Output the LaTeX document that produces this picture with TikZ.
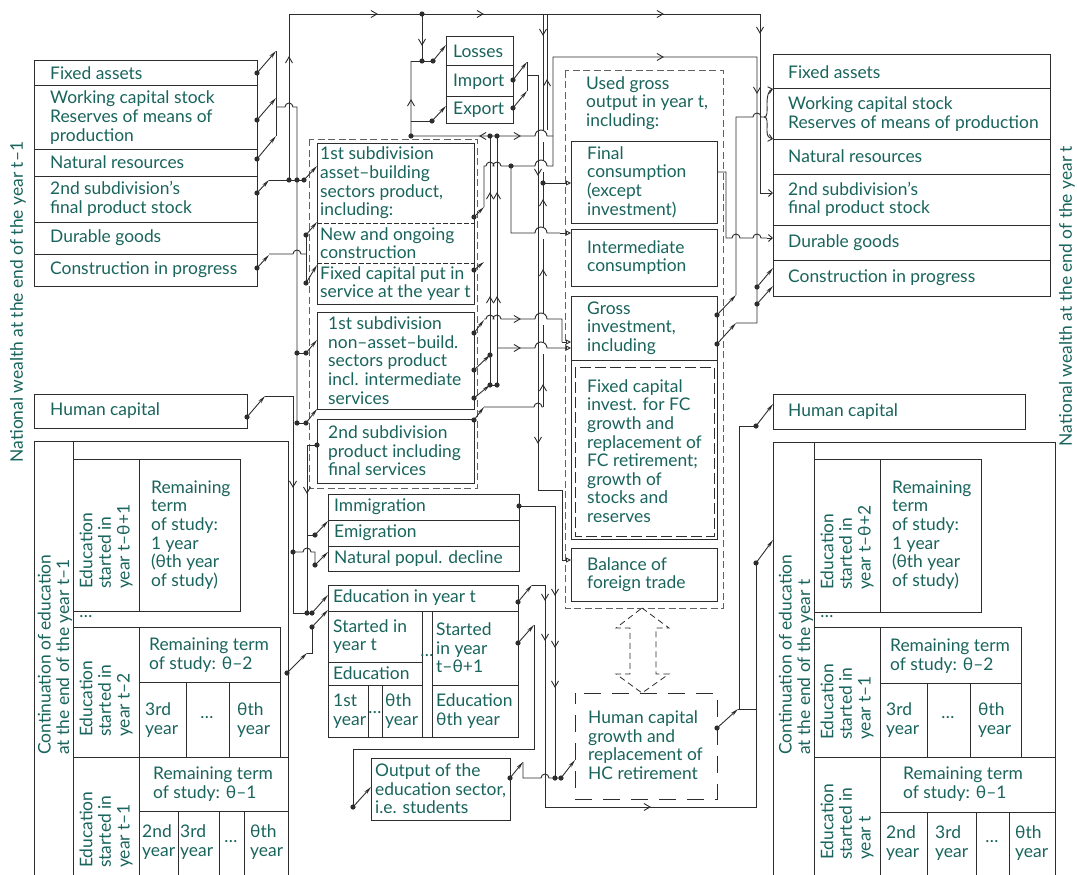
\documentclass[tikz,border=0pt]{standalone}
\usepackage{fontspec}
\setmainfont{Lato}
\usetikzlibrary{arrows.meta,calc}
\definecolor{tealc}{RGB}{25,100,92}
\definecolor{linec}{RGB}{45,45,45}
\newcommand\dt[2]{\fill[linec] (#1,#2) circle (2.6);}
\newcommand\da[4]{\dt{#1}{#2}\draw[wire,tip] (#1,#2) -- (#3,#4);}
\newcommand\ch[3]{\draw[wire] (#1,#2) ++(#3+150:7) -- (#1,#2) -- ++(#3-150:7);}
\newcommand\rbox[5]{\node[box, anchor=north west, minimum width={(#4-#2)*1pt}, minimum height={(#5-#3)*1pt}] (#1) at (#2,#3) {};}
\begin{document}
\begin{tikzpicture}[x=1pt,y=-1pt,
  box/.style={draw=linec, line width=1pt, inner sep=0pt, outer sep=0pt},
  dbox/.style={draw=linec!75, line width=1pt, dash pattern=on 7pt off 3.5pt},
  t/.style={text=tealc, font=\fontsize{17.4}{18.6}\selectfont, align=left, inner sep=0pt, anchor=west},
  wire/.style={draw=linec, line width=0.9pt},
  tip/.style={-{Stealth[length=8pt,width=3.5pt]}},
  tipo/.style={-{Triangle[open,length=5pt,width=5pt]}},
  tipb/.style={-{Straight Barb[length=4pt,width=7pt]}}]
\useasboundingbox (0,0) rectangle (1077,875);
\fill[white] (0,0) rectangle (1077,875);

% ---------------- left: national wealth t-1
\node[t, rotate=90, anchor=center] (nwl) at (18,302) {National wealth at the end of the year t–1};
\rbox{lfa}{34}{61}{257}{86} \node[t] at (50,73.5) {Fixed assets};
\rbox{lwc}{34}{86}{257}{149} \node[t] at (50,117.5) {Working capital stock\\Reserves of means of\\production};
\rbox{lnr}{34}{149}{257}{176} \node[t] at (50,162.5) {Natural resources};
\rbox{lsf}{34}{176}{257}{222} \node[t] at (50,199) {2nd subdivision’s\\final product stock};
\rbox{ldg}{34}{222}{257}{254} \node[t] at (50,238) {Durable goods};
\rbox{lcp}{34}{254}{257}{286} \node[t] at (50,270) {Construction in progress};
\rbox{lhc}{34}{394}{247}{428} \node[t] at (50,411) {Human capital};

% left education block
\draw[box] (34,876) -- (34,441) -- (288,441) -- (288,876);
\draw[box] (73,441) -- (73,876);
\rbox{le1}{73}{459}{240}{611}
\draw[box] (139,459) -- (139,611);
\node[t, rotate=90] at (106,589) {Education\\started in\\year t–θ+1};
\node[t] at (151,535) {Remaining\\term\\of study:\\1 year\\(θth year\\of study)};
\node[t, anchor=center] at (86,617) {…};
\draw[box] (73,627) -- (280,627) -- (280,757);
\draw[box] (139,627) -- (139,876);
\draw[box] (139,682) -- (280,682);
\draw[box] (186,682) -- (186,757) (229,682) -- (229,757);
\draw[box] (73,757) -- (288,757);
\draw[box] (139,811) -- (288,811);
\draw[box] (178,811) -- (178,876) (219,811) -- (219,876) (244,811) -- (244,876);
\node[t, rotate=90] at (106,737) {Education\\started in\\year t–2};
\node[t] at (149,655) {Remaining term\\of study: θ–2};
\node[t] at (145,720) {3rd\\year};
\node[t, anchor=center] at (207,718) {…};
\node[t] at (237,720) {θth\\year};
\node[t, rotate=90] at (106,868) {Education\\started in\\year t–1};
\node[t] at (153,784) {Remaining term\\of study: θ–1};
\node[t] at (142,842) {2nd\\year};
\node[t] at (180,842) {3rd\\year};
\node[t, anchor=center] at (231,842) {…};
\node[t] at (250,842) {θth\\year};
\node[t, rotate=90] at (55,755) {Continuation of education\\at the end of the year t–1};

% ---------------- middle
\draw[dbox] (309,139) rectangle (477,488);
\rbox{asb}{317}{143}{474}{304}
\draw[linec, line width=0.8pt, dash pattern=on 5pt off 2pt] (317,223) -- (474,223) (317,263) -- (474,263);
\node[t] at (320,183) {1st subdivision\\asset–building\\sectors product,\\including:};
\node[t] at (320,243) {New and ongoing\\construction};
\node[t] at (320,283.5) {Fixed capital put in\\service at the year t};
\rbox{nab}{317}{312}{474}{409} \node[t] at (328,360.5) {1st subdivision\\non–asset–build.\\sectors product\\incl. intermediate\\services};
\rbox{s2b}{317}{419}{474}{483} \node[t] at (328,451) {2nd subdivision\\product including\\final services};
\rbox{los}{446}{37}{513}{66} \node[t] at (453,51.5) {Losses};
\rbox{imp}{446}{66}{513}{97} \node[t] at (453,81.5) {Import};
\rbox{exp}{446}{97}{513}{123} \node[t] at (453,110) {Export};
\rbox{img}{328}{494}{519}{520} \node[t] at (334,507) {Immigration};
\rbox{emi}{328}{520}{519}{546} \node[t] at (334,533) {Emigration};
\rbox{npd}{328}{546}{519}{571} \node[t] at (334,558.5) {Natural popul. decline};
% education in year t
\rbox{edt}{328}{585}{518}{737}
\draw[box] (328,611) -- (518,611) (328,662) -- (422,662) (328,685) -- (422,685) (432,685) -- (518,685);
\draw[box] (422,611) -- (422,737) (432,611) -- (432,737) (368,685) -- (368,737) (382,685) -- (382,737);
\node[t] at (333,598) {Education in year t};
\node[t] at (333,636.5) {Started in\\year t};
\node[t] at (333,673.5) {Education};
\node[t] at (333,711) {1st\\year};
\node[t, anchor=center] at (375,713) {…};
\node[t] at (385,711) {θth\\year};
\node[t, anchor=center] at (427,656) {…};
\node[t] at (436,648) {Started\\in year\\t–θ+1};
\node[t] at (436,711) {Education\\θth year};
\rbox{out}{371}{758}{510}{820} \node[t] at (375,789) {Output of the\\education sector,\\i.e. students};

% ---------------- right middle
\draw[dbox] (565,71) rectangle (723,608);
\node[t] at (586,103) {Used gross\\output in year t,\\including:};
\rbox{fc}{571}{141}{717}{223} \node[t] at (587,182) {Final\\consumption\\(except\\investment)};
\rbox{ic}{571}{229}{717}{286} \node[t] at (587,257.5) {Intermediate\\consumption};
\rbox{gi}{571}{296}{717}{539}
\draw[box] (571,360) -- (717,360);
\node[t] at (587,328) {Gross\\investment,\\including};
\draw[linec, line width=1pt, dash pattern=on 11pt off 4pt] (575,367) rectangle (714,536);
\node[t] at (587,451) {Fixed capital\\invest. for FC\\growth and\\replacement of\\FC retirement;\\growth of\\stocks and\\reserves};
\rbox{bft}{571}{548}{717}{601} \node[t] at (587,574.5) {Balance of\\foreign trade};
\draw[linec, line width=1pt, dash pattern=on 17pt off 11pt, dash phase=6pt] (575,693) rectangle (717,799);
\node[t] (hcg) at (588,745) {Human capital\\growth and\\replacement of\\HC retirement};
\draw[linec, line width=0.8pt, dash pattern=on 6pt off 4pt] (642,608) -- (669,628) -- (656,628) -- (656,674) -- (669,674) -- (642,693) -- (616,674) -- (630,674) -- (630,628) -- (616,628) -- cycle;

% ---------------- right: national wealth t
\node[t, rotate=90, anchor=center] (nwr) at (1067,296) {National wealth at the end of the year t};
\rbox{rfa}{773}{55}{1050}{89} \node[t] at (788,72) {Fixed assets};
\rbox{rwc}{773}{89}{1050}{139} \node[t] at (788,114) {Working capital stock\\Reserves of means of production};
\rbox{rnr}{773}{139}{1050}{174} \node[t] at (788,156.5) {Natural resources};
\rbox{rsf}{773}{174}{1050}{225} \node[t] at (788,199.5) {2nd subdivision’s\\final product stock};
\rbox{rdg}{773}{225}{1050}{260} \node[t] at (788,242.5) {Durable goods};
\rbox{rcp}{773}{260}{1050}{296} \node[t] at (788,278) {Construction in progress};
\rbox{rhc}{773}{394}{1025}{429} \node[t] at (788,411.5) {Human capital};
\draw[box] (773,876) -- (773,442) -- (1055,442) -- (1055,876);
\draw[box] (814,442) -- (814,876);
\rbox{re1}{814}{459}{981}{612}
\draw[box] (880,459) -- (880,612);
\node[t, rotate=90] at (847,590) {Education\\started in\\year t–θ+2};
\node[t] at (892,535) {Remaining\\term\\of study:\\1 year\\(θth year\\of study)};
\node[t, anchor=center] at (827,617) {…};
\draw[box] (814,627) -- (1021,627) -- (1021,757);
\draw[box] (880,627) -- (880,876);
\draw[box] (880,683) -- (1021,683);
\draw[box] (927,683) -- (927,757) (970,683) -- (970,757);
\draw[box] (814,757) -- (1055,757);
\draw[box] (880,812) -- (1055,812);
\draw[box] (927,812) -- (927,876) (976,812) -- (976,876) (1009,812) -- (1009,876);
\node[t, rotate=90] at (847,740) {Education\\started in\\year t–1};
\node[t] at (890,656) {Remaining term\\of study: θ–2};
\node[t] at (886,720) {3rd\\year};
\node[t, anchor=center] at (948,718) {…};
\node[t] at (978,720) {θth\\year};
\node[t, rotate=90] at (847,860) {Education\\started in\\year t};
\node[t] at (903,784) {Remaining term\\of study: θ–1};
\node[t] at (886,843) {2nd\\year};
\node[t] at (935,843) {3rd\\year};
\node[t, anchor=center] at (992,842) {…};
\node[t] at (1015,843) {θth\\year};
\node[t, rotate=90] at (796,755) {Continuation of education\\at the end of the year t};

% ================= wiring
% stock of 2nd subdivision -> top line -> right
\da{257}{193}{269}{180}
\draw[wire] (269,180) -- (304,180);
\draw[wire] (289,180) -- (289,14) -- (760,14) -- (760,193);
\draw[wire,tipb] (760,193) -- (773,193);
\dt{289}{180}
\ch{289}{57}{270} \ch{377}{14}{0} \ch{483}{14}{0} \ch{663}{14}{0} \ch{760}{33}{90}
% resources
\da{257}{73}{276}{51} \da{257}{120}{276}{98} \da{257}{159}{276}{136}
\draw[wire] (276,51) -- (276,136);
\draw[wire] (276,107) -- (285,107) arc (180:360:4) -- (297,107) -- (297,423);
\dt{297}{180} \da{304}{180}{317}{166}
% construction in progress
\da{257}{268}{269}{255}
\draw[wire] (269,254) -- (293,254) arc (180:360:4) -- (306,254);
\draw[wire] (306,235) -- (306,283);
\da{306}{235}{317}{222} \da{306}{283}{317}{265}
\draw[wire] (297,353) -- (306,353); \dt{297}{353} \da{306}{353}{317}{340}
\draw[wire] (297,423) -- (306,423); \dt{297}{423} \da{306}{423}{317}{409}
% human capital
\da{247}{417}{265}{396}
\draw[wire] (265,396) -- (293,396) -- (293,613) -- (312,613);
\ch{293}{487}{90}
\dt{293}{552}
\draw[wire] (293,552) -- (303,552) arc (180:360:4) -- (315,552) -- (315,565);
\da{315}{565}{328}{552}
\dt{317}{445}
\draw[wire] (317,445) -- (307,445) -- (307,613);
\ch{307}{493}{90}
\draw[wire] (307,535) -- (315,535); \da{315}{535}{328}{521}
\dt{307}{613} \da{312}{613}{328}{595}
\da{312}{627}{328}{610}
\draw[wire] (312,627) -- (312,653) -- (307,653);
\da{287}{673}{307}{653}
% education in year t -> right
\da{518}{602}{532}{585}
\draw[wire] (532,585) -- (545,585) -- (545,807) -- (756,807) -- (756,563);
\ch{545}{600}{90} \ch{545}{640}{90} \ch{650}{807}{0}
\da{756}{563}{773}{540}
\da{518}{643}{534}{625}
\draw[wire] (534,625) -- (534,749) -- (353,749) -- (353,807);
\da{353}{807}{371}{787}
\da{510}{778}{523}{762}
\draw[wire] (523,762) -- (523,778) -- (541,778) arc (180:360:4) -- (561,778);
\dt{555}{778} \da{561}{778}{575}{760}
\dt{519}{506}
\draw[wire] (519,506) -- (555,506) -- (555,778);
\ch{555}{595}{90} \ch{555}{647}{90} \ch{555}{687}{90}
\da{717}{728}{738}{709}
\draw[wire] (738,709) -- (756,709);
\draw[wire] (739,709) -- (739,426) -- (756,426);
\da{756}{426}{773}{404}
% import / export -> balance
\da{513}{80}{527}{62} \da{513}{108}{527}{91}
\draw[wire] (527,62) -- (527,91);
\draw[wire] (527,75) -- (538,75) -- (538,490) -- (562,490) -- (562,560);
\draw[wire,tipo] (562,560) -- (571,560);
\ch{538}{175}{90} \ch{538}{443}{90}
% losses
\dt{422}{14}
\draw[wire] (422,14) -- (422,61); \ch{422}{45}{90}
\draw[wire] (411,61) -- (433,61); \dt{422}{61} \da{433}{61}{446}{45}
\draw[wire] (411,61) -- (411,136) -- (535,136) arc (180:360:6) -- (553,136);
\draw[wire] (547,14) -- (547,130);
\draw[wire] (411,121) -- (432,121); \da{432}{121}{446}{106}
\ch{411}{100}{270} \dt{411}{136}
\ch{480}{136}{180} \ch{520}{136}{0} \ch{547}{80}{270}
\dt{490}{136} \dt{497}{136}
\draw[wire] (490,136) -- (490,385) (497,136) -- (497,385) (490,385) -- (497,385);
\ch{490}{193}{270} \ch{497}{193}{270} \ch{490}{297}{270} \ch{497}{297}{270}
\dt{490}{355} \dt{490}{385} \dt{497}{385}
\da{474}{370}{490}{355} \da{474}{398}{490}{385}
% final consumption input
\draw[wire] (543,14) -- (543,130) (543,142) -- (543,160) (543,172) -- (543,227) (543,239) -- (543,313) (543,325) -- (543,342) (543,354) -- (543,407);
\ch{543}{35}{90} \ch{543}{200}{270} \ch{543}{270}{270} \ch{543}{385}{270}
\dt{543}{183}
\draw[wire,tipo] (543,183) -- (571,183);
% 1st subdivision asset-building -> intermediate & right
\da{474}{217}{484}{207}
\draw[wire] (484,207) -- (484,166) -- (486,166) arc (180:360:4) -- (493,166) arc (180:360:4) -- (535,166) arc (180:360:6) -- (553,166) -- (553,57) -- (757,57) -- (757,323) -- (736,323);
\ch{663}{57}{0} \ch{757}{93}{90}
\dt{511}{166}
\draw[wire] (511,166) -- (511,233) -- (535,233) arc (180:360:6) -- (560,233);
\draw[wire,tipo] (560,233) -- (571,233);
\da{474}{270}{484}{262}
% non-asset -> gross investment
\da{474}{333}{484}{320}
\draw[wire] (484,319) -- (486,319) arc (180:360:4) -- (493,319) arc (180:360:4) -- (535,319) arc (180:360:6) -- (562,319) -- (562,342);
\draw[wire,tipo] (562,342) -- (571,342);
\ch{520}{319}{0}
\draw[wire] (497,348) -- (535,348) arc (180:360:6) -- (565,348);
\draw[wire,tipo] (565,348) -- (571,348);
\ch{520}{348}{0}
% 2nd subdivision product -> final consumption
\da{474}{420}{484}{407}
\draw[wire] (484,407) -- (534,407) arc (180:360:4) -- (543,407);
% final consumption -> durable goods
\draw[wire] (717,172) -- (726,172) -- (726,238) -- (732,238) arc (180:360:4) -- (753,238) arc (180:360:4) -- (767,238);
\draw[wire,tipb] (767,238) -- (773,238);
% gross investment -> fixed assets & working capital
\da{717}{315}{736}{295}
\draw[wire] (736,295) -- (736,117) -- (753,117) arc (180:360:4) -- (764,117);
\draw[wire,tipb] (764,117) .. controls (768,117) and (767,111) .. (767,104) .. controls (767,95) and (769,90) .. (773,89);
\draw[wire,tipb] (764,117) .. controls (768,117) and (767,123) .. (767,130) .. controls (767,137) and (769,138) .. (773,139);
\da{717}{344}{736}{323}
\dt{757}{287} \dt{757}{304}
\draw[wire,tip] (757,287) -- (773,268);
\draw[wire,tip] (757,304) -- (773,286);
\end{tikzpicture}
\end{document}
